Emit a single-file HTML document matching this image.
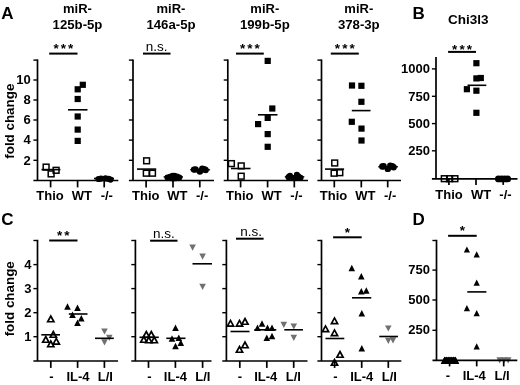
<!DOCTYPE html>
<html><head><meta charset="utf-8"><title>fig</title>
<style>
html,body{margin:0;padding:0;background:#fff;}
body{width:520px;height:385px;overflow:hidden;}
svg{display:block;will-change:transform;font-family:"Liberation Sans",sans-serif;}
</style></head><body>
<svg width="520" height="385" viewBox="0 0 520 385">
<rect width="520" height="385" fill="#fff"/>
<line x1="37.5" y1="59.4" x2="37.5" y2="180.5" stroke="#000" stroke-width="1.7"/>
<line x1="33.4" y1="60.1" x2="37.5" y2="60.1" stroke="#000" stroke-width="1.4"/>
<line x1="33.4" y1="80" x2="37.5" y2="80" stroke="#000" stroke-width="1.4"/>
<line x1="33.4" y1="100" x2="37.5" y2="100" stroke="#000" stroke-width="1.4"/>
<line x1="33.4" y1="120" x2="37.5" y2="120" stroke="#000" stroke-width="1.4"/>
<line x1="33.4" y1="140.1" x2="37.5" y2="140.1" stroke="#000" stroke-width="1.4"/>
<line x1="33.4" y1="160.3" x2="37.5" y2="160.3" stroke="#000" stroke-width="1.4"/>
<line x1="33.4" y1="180.5" x2="118.3" y2="180.5" stroke="#000" stroke-width="1.7"/>
<line x1="50.6" y1="180.5" x2="50.6" y2="187.4" stroke="#000" stroke-width="1.7"/>
<line x1="77.6" y1="180.5" x2="77.6" y2="187.4" stroke="#000" stroke-width="1.7"/>
<line x1="104.2" y1="180.5" x2="104.2" y2="187.4" stroke="#000" stroke-width="1.7"/>
<text x="50.05" y="200" font-size="13" font-weight="bold" text-anchor="middle" >Thio</text>
<text x="81.9" y="200" font-size="13" font-weight="bold" text-anchor="middle" >WT</text>
<text x="106.8" y="200" font-size="13" font-weight="bold" text-anchor="middle" >-/-</text>
<line x1="133" y1="59.4" x2="133" y2="180.5" stroke="#000" stroke-width="1.7"/>
<line x1="128.9" y1="60.1" x2="133" y2="60.1" stroke="#000" stroke-width="1.4"/>
<line x1="128.9" y1="80" x2="133" y2="80" stroke="#000" stroke-width="1.4"/>
<line x1="128.9" y1="100" x2="133" y2="100" stroke="#000" stroke-width="1.4"/>
<line x1="128.9" y1="120" x2="133" y2="120" stroke="#000" stroke-width="1.4"/>
<line x1="128.9" y1="140.1" x2="133" y2="140.1" stroke="#000" stroke-width="1.4"/>
<line x1="128.9" y1="160.3" x2="133" y2="160.3" stroke="#000" stroke-width="1.4"/>
<line x1="128.9" y1="180.5" x2="214" y2="180.5" stroke="#000" stroke-width="1.7"/>
<line x1="146.1" y1="180.5" x2="146.1" y2="187.4" stroke="#000" stroke-width="1.7"/>
<line x1="173" y1="180.5" x2="173" y2="187.4" stroke="#000" stroke-width="1.7"/>
<line x1="199.8" y1="180.5" x2="199.8" y2="187.4" stroke="#000" stroke-width="1.7"/>
<text x="145.75" y="200" font-size="13" font-weight="bold" text-anchor="middle" >Thio</text>
<text x="177.35" y="200" font-size="13" font-weight="bold" text-anchor="middle" >WT</text>
<text x="202.15" y="200" font-size="13" font-weight="bold" text-anchor="middle" >-/-</text>
<line x1="227.8" y1="59.4" x2="227.8" y2="180.5" stroke="#000" stroke-width="1.7"/>
<line x1="223.70000000000002" y1="60.1" x2="227.8" y2="60.1" stroke="#000" stroke-width="1.4"/>
<line x1="223.70000000000002" y1="80" x2="227.8" y2="80" stroke="#000" stroke-width="1.4"/>
<line x1="223.70000000000002" y1="100" x2="227.8" y2="100" stroke="#000" stroke-width="1.4"/>
<line x1="223.70000000000002" y1="120" x2="227.8" y2="120" stroke="#000" stroke-width="1.4"/>
<line x1="223.70000000000002" y1="140.1" x2="227.8" y2="140.1" stroke="#000" stroke-width="1.4"/>
<line x1="223.70000000000002" y1="160.3" x2="227.8" y2="160.3" stroke="#000" stroke-width="1.4"/>
<line x1="223.70000000000002" y1="180.5" x2="308" y2="180.5" stroke="#000" stroke-width="1.7"/>
<line x1="240.6" y1="180.5" x2="240.6" y2="187.4" stroke="#000" stroke-width="1.7"/>
<line x1="267.6" y1="180.5" x2="267.6" y2="187.4" stroke="#000" stroke-width="1.7"/>
<line x1="294.3" y1="180.5" x2="294.3" y2="187.4" stroke="#000" stroke-width="1.7"/>
<text x="239.75" y="200" font-size="13" font-weight="bold" text-anchor="middle" >Thio</text>
<text x="271.65" y="200" font-size="13" font-weight="bold" text-anchor="middle" >WT</text>
<text x="296.5" y="200" font-size="13" font-weight="bold" text-anchor="middle" >-/-</text>
<line x1="321.5" y1="59.4" x2="321.5" y2="180.5" stroke="#000" stroke-width="1.7"/>
<line x1="317.4" y1="60.1" x2="321.5" y2="60.1" stroke="#000" stroke-width="1.4"/>
<line x1="317.4" y1="80" x2="321.5" y2="80" stroke="#000" stroke-width="1.4"/>
<line x1="317.4" y1="100" x2="321.5" y2="100" stroke="#000" stroke-width="1.4"/>
<line x1="317.4" y1="120" x2="321.5" y2="120" stroke="#000" stroke-width="1.4"/>
<line x1="317.4" y1="140.1" x2="321.5" y2="140.1" stroke="#000" stroke-width="1.4"/>
<line x1="317.4" y1="160.3" x2="321.5" y2="160.3" stroke="#000" stroke-width="1.4"/>
<line x1="317.4" y1="180.5" x2="401" y2="180.5" stroke="#000" stroke-width="1.7"/>
<line x1="334.3" y1="180.5" x2="334.3" y2="187.4" stroke="#000" stroke-width="1.7"/>
<line x1="361.3" y1="180.5" x2="361.3" y2="187.4" stroke="#000" stroke-width="1.7"/>
<line x1="387.7" y1="180.5" x2="387.7" y2="187.4" stroke="#000" stroke-width="1.7"/>
<text x="333.5" y="200" font-size="13" font-weight="bold" text-anchor="middle" >Thio</text>
<text x="365.35" y="200" font-size="13" font-weight="bold" text-anchor="middle" >WT</text>
<text x="390.15" y="200" font-size="13" font-weight="bold" text-anchor="middle" >-/-</text>
<text x="30.7" y="84.2" font-size="13" font-weight="bold" text-anchor="end" >10</text>
<text x="30.7" y="104.2" font-size="13" font-weight="bold" text-anchor="end" >8</text>
<text x="30.7" y="124.2" font-size="13" font-weight="bold" text-anchor="end" >6</text>
<text x="30.7" y="144.29999999999998" font-size="13" font-weight="bold" text-anchor="end" >4</text>
<text x="30.7" y="164.5" font-size="13" font-weight="bold" text-anchor="end" >2</text>
<text x="0" y="0" font-size="13.4" font-weight="bold" text-anchor="middle" transform="translate(13.6,121.2) rotate(-90)">fold change</text>
<text x="0" y="0" font-size="13.4" font-weight="bold" text-anchor="middle" transform="translate(13.6,298.8) rotate(-90)">fold change</text>
<text x="77.5" y="13.1" font-size="13" font-weight="bold" text-anchor="middle" >miR-</text>
<text x="77.5" y="29.4" font-size="13.2" font-weight="bold" text-anchor="middle" >125b-5p</text>
<text x="171" y="13.1" font-size="13" font-weight="bold" text-anchor="middle" >miR-</text>
<text x="171" y="29.4" font-size="13.2" font-weight="bold" text-anchor="middle" >146a-5p</text>
<text x="264.8" y="13.1" font-size="13" font-weight="bold" text-anchor="middle" >miR-</text>
<text x="264.8" y="29.4" font-size="13.2" font-weight="bold" text-anchor="middle" >199b-5p</text>
<text x="358.8" y="13.1" font-size="13" font-weight="bold" text-anchor="middle" >miR-</text>
<text x="358.8" y="29.4" font-size="13.2" font-weight="bold" text-anchor="middle" >378-3p</text>
<text x="468.2" y="23.9" font-size="13.5" font-weight="bold" text-anchor="middle" >Chi3l3</text>
<text x="1.3" y="19" font-size="17" font-weight="bold" text-anchor="start" >A</text>
<text x="412.5" y="19" font-size="17" font-weight="bold" text-anchor="start" >B</text>
<text x="1.3" y="225" font-size="17" font-weight="bold" text-anchor="start" >C</text>
<text x="412.5" y="225" font-size="17" font-weight="bold" text-anchor="start" >D</text>
<line x1="49.2" y1="53.6" x2="77.5" y2="53.6" stroke="#000" stroke-width="2.0"/>
<text x="56.05" y="53.30" font-size="13.5" font-weight="bold" text-anchor="middle" >*</text>
<text x="63.35" y="53.30" font-size="13.5" font-weight="bold" text-anchor="middle" >*</text>
<text x="70.65" y="53.30" font-size="13.5" font-weight="bold" text-anchor="middle" >*</text>
<line x1="143" y1="53.6" x2="170.5" y2="53.6" stroke="#000" stroke-width="2.0"/>
<text x="156.75" y="50.70" font-size="13.5" font-weight="normal" text-anchor="middle" >n.s.</text>
<line x1="236" y1="53.6" x2="263.8" y2="53.6" stroke="#000" stroke-width="2.0"/>
<text x="242.60" y="53.30" font-size="13.5" font-weight="bold" text-anchor="middle" >*</text>
<text x="249.90" y="53.30" font-size="13.5" font-weight="bold" text-anchor="middle" >*</text>
<text x="257.20" y="53.30" font-size="13.5" font-weight="bold" text-anchor="middle" >*</text>
<line x1="330.8" y1="53.6" x2="358.8" y2="53.6" stroke="#000" stroke-width="2.0"/>
<text x="337.50" y="53.30" font-size="13.5" font-weight="bold" text-anchor="middle" >*</text>
<text x="344.80" y="53.30" font-size="13.5" font-weight="bold" text-anchor="middle" >*</text>
<text x="352.10" y="53.30" font-size="13.5" font-weight="bold" text-anchor="middle" >*</text>
<line x1="448.1" y1="51.9" x2="476" y2="51.9" stroke="#000" stroke-width="2.0"/>
<text x="454.75" y="53.80" font-size="13.5" font-weight="bold" text-anchor="middle" >*</text>
<text x="462.05" y="53.80" font-size="13.5" font-weight="bold" text-anchor="middle" >*</text>
<text x="469.35" y="53.80" font-size="13.5" font-weight="bold" text-anchor="middle" >*</text>
<rect x="43.20" y="164.20" width="5.80" height="5.80" fill="none" stroke="#000" stroke-width="1.5"/>
<rect x="53.20" y="167.40" width="5.80" height="5.80" fill="none" stroke="#000" stroke-width="1.5"/>
<rect x="48.20" y="171.00" width="5.80" height="5.80" fill="none" stroke="#000" stroke-width="1.5"/>
<line x1="41.5" y1="169.6" x2="60.4" y2="169.6" stroke="#000" stroke-width="1.6"/>
<rect x="79.70" y="81.70" width="6.2" height="6.2" fill="#000"/>
<rect x="74.60" y="86.20" width="6.2" height="6.2" fill="#000"/>
<rect x="74.60" y="95.90" width="6.2" height="6.2" fill="#000"/>
<rect x="74.60" y="113.40" width="6.2" height="6.2" fill="#000"/>
<rect x="74.60" y="126.50" width="6.2" height="6.2" fill="#000"/>
<rect x="74.60" y="137.80" width="6.2" height="6.2" fill="#000"/>
<line x1="68" y1="109.8" x2="87.5" y2="109.8" stroke="#000" stroke-width="1.6"/>
<circle cx="98.5" cy="179" r="3.1" fill="#000"/>
<circle cx="101" cy="178.6" r="3.1" fill="#000"/>
<circle cx="105.5" cy="178.4" r="3.1" fill="#000"/>
<circle cx="108.5" cy="178.8" r="3.1" fill="#000"/>
<circle cx="110.5" cy="179.6" r="3.1" fill="#000"/>
<line x1="94" y1="178.5" x2="114" y2="178.5" stroke="#000" stroke-width="1.6"/>
<rect x="143.70" y="157.90" width="5.80" height="5.80" fill="none" stroke="#000" stroke-width="1.5"/>
<rect x="143.40" y="170.30" width="5.80" height="5.80" fill="none" stroke="#000" stroke-width="1.5"/>
<rect x="149.60" y="170.30" width="5.80" height="5.80" fill="none" stroke="#000" stroke-width="1.5"/>
<line x1="137" y1="169.1" x2="156.2" y2="169.1" stroke="#000" stroke-width="1.6"/>
<circle cx="167.4" cy="177.4" r="3.0" fill="#000"/>
<circle cx="170" cy="176.7" r="3.0" fill="#000"/>
<circle cx="172.5" cy="175.8" r="3.0" fill="#000"/>
<circle cx="174.5" cy="175.7" r="3.0" fill="#000"/>
<circle cx="177" cy="176.6" r="3.0" fill="#000"/>
<circle cx="179.4" cy="177.4" r="3.0" fill="#000"/>
<circle cx="171" cy="178.3" r="3.0" fill="#000"/>
<circle cx="176" cy="178.3" r="3.0" fill="#000"/>
<circle cx="173.5" cy="178.5" r="3.0" fill="#000"/>
<line x1="163.6" y1="176.9" x2="183" y2="176.9" stroke="#000" stroke-width="1.3"/>
<circle cx="194" cy="169.6" r="3.2" fill="#000"/>
<circle cx="195.5" cy="169.4" r="3.2" fill="#000"/>
<circle cx="199.9" cy="171.5" r="3.2" fill="#000"/>
<circle cx="202.3" cy="168.7" r="3.2" fill="#000"/>
<circle cx="204.2" cy="169.2" r="3.2" fill="#000"/>
<circle cx="205.6" cy="170" r="3.2" fill="#000"/>
<line x1="190.2" y1="169.8" x2="210.1" y2="169.8" stroke="#000" stroke-width="1.3"/>
<rect x="228.50" y="160.70" width="5.80" height="5.80" fill="none" stroke="#000" stroke-width="1.5"/>
<rect x="238.30" y="163.00" width="5.80" height="5.80" fill="none" stroke="#000" stroke-width="1.5"/>
<rect x="238.30" y="173.30" width="5.80" height="5.80" fill="none" stroke="#000" stroke-width="1.5"/>
<line x1="231" y1="168.5" x2="250.5" y2="168.5" stroke="#000" stroke-width="1.6"/>
<rect x="264.60" y="57.80" width="6.2" height="6.2" fill="#000"/>
<rect x="269.20" y="105.40" width="6.2" height="6.2" fill="#000"/>
<rect x="264.60" y="114.80" width="6.2" height="6.2" fill="#000"/>
<rect x="255.00" y="121.00" width="6.2" height="6.2" fill="#000"/>
<rect x="264.60" y="131.00" width="6.2" height="6.2" fill="#000"/>
<rect x="264.60" y="143.70" width="6.2" height="6.2" fill="#000"/>
<line x1="258" y1="114.8" x2="277.5" y2="114.8" stroke="#000" stroke-width="1.6"/>
<circle cx="288.6" cy="177.2" r="3.1" fill="#000"/>
<circle cx="290" cy="175.9" r="3.1" fill="#000"/>
<circle cx="293.5" cy="178" r="3.1" fill="#000"/>
<circle cx="296.9" cy="174.9" r="3.1" fill="#000"/>
<circle cx="298.5" cy="176.5" r="3.1" fill="#000"/>
<circle cx="300.5" cy="177.8" r="3.1" fill="#000"/>
<circle cx="295.5" cy="178" r="3.1" fill="#000"/>
<line x1="284.8" y1="176.8" x2="304.3" y2="176.8" stroke="#000" stroke-width="1.3"/>
<rect x="331.80" y="160.10" width="5.80" height="5.80" fill="none" stroke="#000" stroke-width="1.5"/>
<rect x="331.20" y="170.30" width="5.80" height="5.80" fill="none" stroke="#000" stroke-width="1.5"/>
<rect x="336.90" y="169.80" width="5.80" height="5.80" fill="none" stroke="#000" stroke-width="1.5"/>
<line x1="325" y1="169.1" x2="344.1" y2="169.1" stroke="#000" stroke-width="1.6"/>
<rect x="348.90" y="82.40" width="6.2" height="6.2" fill="#000"/>
<rect x="358.30" y="82.70" width="6.2" height="6.2" fill="#000"/>
<rect x="358.30" y="98.70" width="6.2" height="6.2" fill="#000"/>
<rect x="348.70" y="118.70" width="6.2" height="6.2" fill="#000"/>
<rect x="358.40" y="125.50" width="6.2" height="6.2" fill="#000"/>
<rect x="358.40" y="137.40" width="6.2" height="6.2" fill="#000"/>
<line x1="351.8" y1="110.6" x2="370.5" y2="110.6" stroke="#000" stroke-width="1.6"/>
<circle cx="382.3" cy="166.5" r="3.2" fill="#000"/>
<circle cx="383.6" cy="166.3" r="3.2" fill="#000"/>
<circle cx="387.8" cy="168.9" r="3.2" fill="#000"/>
<circle cx="390.3" cy="165.7" r="3.2" fill="#000"/>
<circle cx="392.2" cy="166.2" r="3.2" fill="#000"/>
<circle cx="393.6" cy="167.2" r="3.2" fill="#000"/>
<line x1="378.2" y1="166.8" x2="398" y2="166.8" stroke="#000" stroke-width="1.3"/>
<line x1="436" y1="57.099999999999994" x2="436" y2="178.9" stroke="#000" stroke-width="1.7"/>
<line x1="431.9" y1="68.9" x2="436" y2="68.9" stroke="#000" stroke-width="1.4"/>
<line x1="431.9" y1="96.3" x2="436" y2="96.3" stroke="#000" stroke-width="1.4"/>
<line x1="431.9" y1="123.6" x2="436" y2="123.6" stroke="#000" stroke-width="1.4"/>
<line x1="431.9" y1="150.8" x2="436" y2="150.8" stroke="#000" stroke-width="1.4"/>
<line x1="431.9" y1="178.9" x2="517.5" y2="178.9" stroke="#000" stroke-width="1.7"/>
<line x1="448.9" y1="178.9" x2="448.9" y2="184.9" stroke="#000" stroke-width="1.7"/>
<line x1="476" y1="178.9" x2="476" y2="184.9" stroke="#000" stroke-width="1.7"/>
<line x1="503.2" y1="178.9" x2="503.2" y2="184.9" stroke="#000" stroke-width="1.7"/>
<text x="449.05" y="199.4" font-size="13" font-weight="bold" text-anchor="middle" >Thio</text>
<text x="481.05" y="199.4" font-size="13" font-weight="bold" text-anchor="middle" >WT</text>
<text x="505.45" y="199.4" font-size="13" font-weight="bold" text-anchor="middle" >-/-</text>
<text x="430" y="73.10000000000001" font-size="13" font-weight="bold" text-anchor="end" >1000</text>
<text x="430" y="100.5" font-size="13" font-weight="bold" text-anchor="end" >750</text>
<text x="430" y="127.8" font-size="13" font-weight="bold" text-anchor="end" >500</text>
<text x="430" y="155.0" font-size="13" font-weight="bold" text-anchor="end" >250</text>
<rect x="441.40" y="175.80" width="5.80" height="5.80" fill="none" stroke="#000" stroke-width="1.5"/>
<rect x="446.70" y="175.80" width="5.80" height="5.80" fill="none" stroke="#000" stroke-width="1.5"/>
<rect x="452.00" y="175.80" width="5.80" height="5.80" fill="none" stroke="#000" stroke-width="1.5"/>
<rect x="473.30" y="60.10" width="6.2" height="6.2" fill="#000"/>
<rect x="473.30" y="75.30" width="6.2" height="6.2" fill="#000"/>
<rect x="477.70" y="74.90" width="6.2" height="6.2" fill="#000"/>
<rect x="463.80" y="86.10" width="6.2" height="6.2" fill="#000"/>
<rect x="473.30" y="87.60" width="6.2" height="6.2" fill="#000"/>
<rect x="473.30" y="109.70" width="6.2" height="6.2" fill="#000"/>
<line x1="467.5" y1="85.3" x2="486.3" y2="85.3" stroke="#000" stroke-width="1.6"/>
<circle cx="498.4" cy="178.9" r="3.4" fill="#000"/>
<circle cx="501.5" cy="178.9" r="3.4" fill="#000"/>
<circle cx="504.5" cy="178.9" r="3.4" fill="#000"/>
<circle cx="507.6" cy="178.9" r="3.4" fill="#000"/>
<line x1="37.5" y1="239.8" x2="37.5" y2="361.0" stroke="#000" stroke-width="1.7"/>
<line x1="33.4" y1="240.5" x2="37.5" y2="240.5" stroke="#000" stroke-width="1.4"/>
<line x1="33.4" y1="264.6" x2="37.5" y2="264.6" stroke="#000" stroke-width="1.4"/>
<line x1="33.4" y1="288.6" x2="37.5" y2="288.6" stroke="#000" stroke-width="1.4"/>
<line x1="33.4" y1="312.7" x2="37.5" y2="312.7" stroke="#000" stroke-width="1.4"/>
<line x1="33.4" y1="336.7" x2="37.5" y2="336.7" stroke="#000" stroke-width="1.4"/>
<line x1="33.4" y1="361.0" x2="118" y2="361.0" stroke="#000" stroke-width="1.7"/>
<line x1="50.8" y1="361.0" x2="50.8" y2="367.9" stroke="#000" stroke-width="1.7"/>
<line x1="77.6" y1="361.0" x2="77.6" y2="367.9" stroke="#000" stroke-width="1.7"/>
<line x1="104.4" y1="361.0" x2="104.4" y2="367.9" stroke="#000" stroke-width="1.7"/>
<text x="51.4" y="381.3" font-size="13" font-weight="bold" text-anchor="middle" >-</text>
<text x="78" y="381.3" font-size="13" font-weight="bold" text-anchor="middle" >IL-4</text>
<text x="105.4" y="381.3" font-size="13" font-weight="bold" text-anchor="middle" >L/I</text>
<line x1="135.4" y1="239.8" x2="135.4" y2="361.0" stroke="#000" stroke-width="1.7"/>
<line x1="131.3" y1="240.5" x2="135.4" y2="240.5" stroke="#000" stroke-width="1.4"/>
<line x1="131.3" y1="264.6" x2="135.4" y2="264.6" stroke="#000" stroke-width="1.4"/>
<line x1="131.3" y1="288.6" x2="135.4" y2="288.6" stroke="#000" stroke-width="1.4"/>
<line x1="131.3" y1="312.7" x2="135.4" y2="312.7" stroke="#000" stroke-width="1.4"/>
<line x1="131.3" y1="336.7" x2="135.4" y2="336.7" stroke="#000" stroke-width="1.4"/>
<line x1="131.3" y1="361.0" x2="211.5" y2="361.0" stroke="#000" stroke-width="1.7"/>
<line x1="148.5" y1="361.0" x2="148.5" y2="367.9" stroke="#000" stroke-width="1.7"/>
<line x1="175.4" y1="361.0" x2="175.4" y2="367.9" stroke="#000" stroke-width="1.7"/>
<line x1="202.6" y1="361.0" x2="202.6" y2="367.9" stroke="#000" stroke-width="1.7"/>
<text x="149.4" y="381.3" font-size="13" font-weight="bold" text-anchor="middle" >-</text>
<text x="175.4" y="381.3" font-size="13" font-weight="bold" text-anchor="middle" >IL-4</text>
<text x="202.9" y="381.3" font-size="13" font-weight="bold" text-anchor="middle" >L/I</text>
<line x1="226.4" y1="239.8" x2="226.4" y2="361.0" stroke="#000" stroke-width="1.7"/>
<line x1="222.3" y1="240.5" x2="226.4" y2="240.5" stroke="#000" stroke-width="1.4"/>
<line x1="222.3" y1="264.6" x2="226.4" y2="264.6" stroke="#000" stroke-width="1.4"/>
<line x1="222.3" y1="288.6" x2="226.4" y2="288.6" stroke="#000" stroke-width="1.4"/>
<line x1="222.3" y1="312.7" x2="226.4" y2="312.7" stroke="#000" stroke-width="1.4"/>
<line x1="222.3" y1="336.7" x2="226.4" y2="336.7" stroke="#000" stroke-width="1.4"/>
<line x1="222.3" y1="361.0" x2="307.5" y2="361.0" stroke="#000" stroke-width="1.7"/>
<line x1="239.8" y1="361.0" x2="239.8" y2="367.9" stroke="#000" stroke-width="1.7"/>
<line x1="266.8" y1="361.0" x2="266.8" y2="367.9" stroke="#000" stroke-width="1.7"/>
<line x1="293.7" y1="361.0" x2="293.7" y2="367.9" stroke="#000" stroke-width="1.7"/>
<text x="239.9" y="381.3" font-size="13" font-weight="bold" text-anchor="middle" >-</text>
<text x="265.7" y="381.3" font-size="13" font-weight="bold" text-anchor="middle" >IL-4</text>
<text x="293.3" y="381.3" font-size="13" font-weight="bold" text-anchor="middle" >L/I</text>
<line x1="321.5" y1="239.8" x2="321.5" y2="361.0" stroke="#000" stroke-width="1.7"/>
<line x1="317.4" y1="240.5" x2="321.5" y2="240.5" stroke="#000" stroke-width="1.4"/>
<line x1="317.4" y1="264.6" x2="321.5" y2="264.6" stroke="#000" stroke-width="1.4"/>
<line x1="317.4" y1="288.6" x2="321.5" y2="288.6" stroke="#000" stroke-width="1.4"/>
<line x1="317.4" y1="312.7" x2="321.5" y2="312.7" stroke="#000" stroke-width="1.4"/>
<line x1="317.4" y1="336.7" x2="321.5" y2="336.7" stroke="#000" stroke-width="1.4"/>
<line x1="317.4" y1="361.0" x2="401.3" y2="361.0" stroke="#000" stroke-width="1.7"/>
<line x1="334.6" y1="361.0" x2="334.6" y2="367.9" stroke="#000" stroke-width="1.7"/>
<line x1="361.7" y1="361.0" x2="361.7" y2="367.9" stroke="#000" stroke-width="1.7"/>
<line x1="388.3" y1="361.0" x2="388.3" y2="367.9" stroke="#000" stroke-width="1.7"/>
<text x="335.3" y="381.3" font-size="13" font-weight="bold" text-anchor="middle" >-</text>
<text x="361.7" y="381.3" font-size="13" font-weight="bold" text-anchor="middle" >IL-4</text>
<text x="389.3" y="381.3" font-size="13" font-weight="bold" text-anchor="middle" >L/I</text>
<text x="31.5" y="268.90000000000003" font-size="13" font-weight="bold" text-anchor="end" >4</text>
<text x="31.5" y="292.90000000000003" font-size="13" font-weight="bold" text-anchor="end" >3</text>
<text x="31.5" y="317.0" font-size="13" font-weight="bold" text-anchor="end" >2</text>
<text x="31.5" y="341.0" font-size="13" font-weight="bold" text-anchor="end" >1</text>
<line x1="49.2" y1="240.5" x2="77.5" y2="240.5" stroke="#000" stroke-width="2.0"/>
<text x="59.70" y="240.20" font-size="13.5" font-weight="bold" text-anchor="middle" >*</text>
<text x="67.00" y="240.20" font-size="13.5" font-weight="bold" text-anchor="middle" >*</text>
<line x1="150.1" y1="240.7" x2="177.5" y2="240.7" stroke="#000" stroke-width="2.0"/>
<text x="163.8" y="237.80" font-size="13.5" font-weight="normal" text-anchor="middle" >n.s.</text>
<line x1="236" y1="238.7" x2="263.6" y2="238.7" stroke="#000" stroke-width="2.0"/>
<text x="251.1" y="235.80" font-size="13.5" font-weight="normal" text-anchor="middle" >n.s.</text>
<line x1="333.1" y1="237.3" x2="361.7" y2="237.3" stroke="#000" stroke-width="2.0"/>
<text x="347.40" y="237.00" font-size="13.5" font-weight="bold" text-anchor="middle" >*</text>
<line x1="448.1" y1="235.8" x2="476.7" y2="235.8" stroke="#000" stroke-width="2.0"/>
<text x="462.40" y="234.90" font-size="13.5" font-weight="bold" text-anchor="middle" >*</text>
<path d="M47.70,321.75 L53.90,321.75 L50.80,316.10 Z" fill="none" stroke="#000" stroke-width="1.7" stroke-linejoin="miter"/>
<path d="M50.20,337.25 L56.40,337.25 L53.30,331.60 Z" fill="none" stroke="#000" stroke-width="1.7" stroke-linejoin="miter"/>
<path d="M42.70,342.25 L48.90,342.25 L45.80,336.60 Z" fill="none" stroke="#000" stroke-width="1.7" stroke-linejoin="miter"/>
<path d="M53.20,344.05 L59.40,344.05 L56.30,338.40 Z" fill="none" stroke="#000" stroke-width="1.7" stroke-linejoin="miter"/>
<path d="M47.70,346.75 L53.90,346.75 L50.80,341.10 Z" fill="none" stroke="#000" stroke-width="1.7" stroke-linejoin="miter"/>
<line x1="41.3" y1="334.8" x2="60" y2="334.8" stroke="#000" stroke-width="1.6"/>
<path d="M64.20,309.70 L70.80,309.70 L67.50,303.30 Z" fill="#000"/>
<path d="M74.20,311.00 L80.80,311.00 L77.50,304.60 Z" fill="#000"/>
<path d="M69.20,318.00 L75.80,318.00 L72.50,311.60 Z" fill="#000"/>
<path d="M78.00,321.50 L84.60,321.50 L81.30,315.10 Z" fill="#000"/>
<path d="M74.20,326.00 L80.80,326.00 L77.50,319.60 Z" fill="#000"/>
<line x1="68.8" y1="314" x2="87.5" y2="314" stroke="#000" stroke-width="1.6"/>
<path d="M101.20,328.40 L107.80,328.40 L104.50,334.60 Z" fill="#707070"/>
<path d="M106.00,334.70 L112.60,334.70 L109.30,340.90 Z" fill="#707070"/>
<path d="M101.20,339.20 L107.80,339.20 L104.50,345.40 Z" fill="#707070"/>
<line x1="95" y1="338.3" x2="113.8" y2="338.3" stroke="#000" stroke-width="1.6"/>
<path d="M143.20,337.25 L149.40,337.25 L146.30,331.60 Z" fill="none" stroke="#000" stroke-width="1.7" stroke-linejoin="miter"/>
<path d="M148.20,337.25 L154.40,337.25 L151.30,331.60 Z" fill="none" stroke="#000" stroke-width="1.7" stroke-linejoin="miter"/>
<path d="M140.70,342.25 L146.90,342.25 L143.80,336.60 Z" fill="none" stroke="#000" stroke-width="1.7" stroke-linejoin="miter"/>
<path d="M145.70,342.75 L151.90,342.75 L148.80,337.10 Z" fill="none" stroke="#000" stroke-width="1.7" stroke-linejoin="miter"/>
<path d="M151.20,342.75 L157.40,342.75 L154.30,337.10 Z" fill="none" stroke="#000" stroke-width="1.7" stroke-linejoin="miter"/>
<line x1="139.5" y1="337.3" x2="158.8" y2="337.3" stroke="#000" stroke-width="1.6"/>
<path d="M172.20,331.00 L178.80,331.00 L175.50,324.60 Z" fill="#000"/>
<path d="M168.70,341.70 L175.30,341.70 L172.00,335.30 Z" fill="#000"/>
<path d="M175.50,341.00 L182.10,341.00 L178.80,334.60 Z" fill="#000"/>
<path d="M177.50,346.00 L184.10,346.00 L180.80,339.60 Z" fill="#000"/>
<path d="M172.20,349.20 L178.80,349.20 L175.50,342.80 Z" fill="#000"/>
<line x1="166.3" y1="338.3" x2="185.5" y2="338.3" stroke="#000" stroke-width="1.6"/>
<path d="M189.30,244.50 L195.90,244.50 L192.60,250.70 Z" fill="#707070"/>
<path d="M199.30,253.50 L205.90,253.50 L202.60,259.70 Z" fill="#707070"/>
<path d="M199.30,283.80 L205.90,283.80 L202.60,290.00 Z" fill="#707070"/>
<line x1="192.5" y1="263.8" x2="212" y2="263.8" stroke="#000" stroke-width="1.6"/>
<path d="M227.40,326.05 L233.60,326.05 L230.50,320.40 Z" fill="none" stroke="#000" stroke-width="1.7" stroke-linejoin="miter"/>
<path d="M236.40,326.05 L242.60,326.05 L239.50,320.40 Z" fill="none" stroke="#000" stroke-width="1.7" stroke-linejoin="miter"/>
<path d="M241.90,324.25 L248.10,324.25 L245.00,318.60 Z" fill="none" stroke="#000" stroke-width="1.7" stroke-linejoin="miter"/>
<path d="M241.90,347.75 L248.10,347.75 L245.00,342.10 Z" fill="none" stroke="#000" stroke-width="1.7" stroke-linejoin="miter"/>
<path d="M236.40,352.25 L242.60,352.25 L239.50,346.60 Z" fill="none" stroke="#000" stroke-width="1.7" stroke-linejoin="miter"/>
<line x1="230.5" y1="331.5" x2="249.5" y2="331.5" stroke="#000" stroke-width="1.6"/>
<path d="M258.70,326.70 L265.30,326.70 L262.00,320.30 Z" fill="#000"/>
<path d="M254.20,331.00 L260.80,331.00 L257.50,324.60 Z" fill="#000"/>
<path d="M264.20,331.00 L270.80,331.00 L267.50,324.60 Z" fill="#000"/>
<path d="M268.70,331.00 L275.30,331.00 L272.00,324.60 Z" fill="#000"/>
<path d="M268.70,339.20 L275.30,339.20 L272.00,332.80 Z" fill="#000"/>
<path d="M263.50,341.00 L270.10,341.00 L266.80,334.60 Z" fill="#000"/>
<line x1="254.3" y1="329.8" x2="276.3" y2="329.8" stroke="#000" stroke-width="1.6"/>
<path d="M280.50,321.70 L287.10,321.70 L283.80,327.90 Z" fill="#707070"/>
<path d="M290.50,323.40 L297.10,323.40 L293.80,329.60 Z" fill="#707070"/>
<path d="M290.50,334.70 L297.10,334.70 L293.80,340.90 Z" fill="#707070"/>
<line x1="284.3" y1="329.8" x2="303" y2="329.8" stroke="#000" stroke-width="1.6"/>
<path d="M331.40,323.55 L337.60,323.55 L334.50,317.90 Z" fill="none" stroke="#000" stroke-width="1.7" stroke-linejoin="miter"/>
<path d="M322.40,331.55 L328.60,331.55 L325.50,325.90 Z" fill="none" stroke="#000" stroke-width="1.7" stroke-linejoin="miter"/>
<path d="M331.40,335.55 L337.60,335.55 L334.50,329.90 Z" fill="none" stroke="#000" stroke-width="1.7" stroke-linejoin="miter"/>
<path d="M336.90,357.25 L343.10,357.25 L340.00,351.60 Z" fill="none" stroke="#000" stroke-width="1.7" stroke-linejoin="miter"/>
<path d="M331.40,365.25 L337.60,365.25 L334.50,359.60 Z" fill="none" stroke="#000" stroke-width="1.7" stroke-linejoin="miter"/>
<line x1="325.5" y1="338.5" x2="344.3" y2="338.5" stroke="#000" stroke-width="1.6"/>
<path d="M348.50,271.20 L355.10,271.20 L351.80,264.80 Z" fill="#000"/>
<path d="M358.00,279.50 L364.60,279.50 L361.30,273.10 Z" fill="#000"/>
<path d="M363.00,293.70 L369.60,293.70 L366.30,287.30 Z" fill="#000"/>
<path d="M358.00,294.50 L364.60,294.50 L361.30,288.10 Z" fill="#000"/>
<path d="M358.50,316.50 L365.10,316.50 L361.80,310.10 Z" fill="#000"/>
<path d="M358.50,351.50 L365.10,351.50 L361.80,345.10 Z" fill="#000"/>
<line x1="352" y1="297.8" x2="371.3" y2="297.8" stroke="#000" stroke-width="1.6"/>
<path d="M385.00,325.40 L391.60,325.40 L388.30,331.60 Z" fill="#707070"/>
<path d="M385.00,337.70 L391.60,337.70 L388.30,343.90 Z" fill="#707070"/>
<path d="M389.70,337.20 L396.30,337.20 L393.00,343.40 Z" fill="#707070"/>
<line x1="379.3" y1="336.5" x2="398" y2="336.5" stroke="#000" stroke-width="1.6"/>
<path d="M496.40,357.20 L503.00,357.20 L499.70,363.40 Z" fill="#707070"/>
<path d="M500.70,357.20 L507.30,357.20 L504.00,363.40 Z" fill="#707070"/>
<path d="M504.90,357.20 L511.50,357.20 L508.20,363.40 Z" fill="#707070"/>
<line x1="436.5" y1="239.8" x2="436.5" y2="360.4" stroke="#000" stroke-width="1.7"/>
<line x1="432.4" y1="240.5" x2="436.5" y2="240.5" stroke="#000" stroke-width="1.4"/>
<line x1="432.4" y1="270.1" x2="436.5" y2="270.1" stroke="#000" stroke-width="1.4"/>
<line x1="432.4" y1="300" x2="436.5" y2="300" stroke="#000" stroke-width="1.4"/>
<line x1="432.4" y1="330.3" x2="436.5" y2="330.3" stroke="#000" stroke-width="1.4"/>
<line x1="432.5" y1="360.4" x2="517.3" y2="360.4" stroke="#000" stroke-width="1.7"/>
<line x1="449.6" y1="360.4" x2="449.6" y2="366.4" stroke="#000" stroke-width="1.7"/>
<line x1="476.7" y1="360.4" x2="476.7" y2="366.4" stroke="#000" stroke-width="1.7"/>
<line x1="503.7" y1="360.4" x2="503.7" y2="366.4" stroke="#000" stroke-width="1.7"/>
<text x="447.9" y="380.4" font-size="13" font-weight="bold" text-anchor="middle" >-</text>
<text x="474.3" y="380.4" font-size="13" font-weight="bold" text-anchor="middle" >IL-4</text>
<text x="502.1" y="380.4" font-size="13" font-weight="bold" text-anchor="middle" >L/I</text>
<text x="430" y="273.90000000000003" font-size="13" font-weight="bold" text-anchor="end" >750</text>
<text x="430" y="303.8" font-size="13" font-weight="bold" text-anchor="end" >500</text>
<text x="430" y="334.1" font-size="13" font-weight="bold" text-anchor="end" >250</text>
<path d="M440.80,364.00 L448.40,364.00 L444.60,356.40 Z" fill="#000"/>
<path d="M442.60,364.00 L450.20,364.00 L446.40,356.40 Z" fill="#000"/>
<path d="M444.40,364.00 L452.00,364.00 L448.20,356.40 Z" fill="#000"/>
<path d="M446.20,364.00 L453.80,364.00 L450.00,356.40 Z" fill="#000"/>
<path d="M448.00,364.00 L455.60,364.00 L451.80,356.40 Z" fill="#000"/>
<path d="M449.80,364.00 L457.40,364.00 L453.60,356.40 Z" fill="#000"/>
<path d="M451.60,364.00 L459.20,364.00 L455.40,356.40 Z" fill="#000"/>
<path d="M440.8,364 L459.2,364 L455.8,357.3 L444.2,357.3 Z" fill="#000"/>
<path d="M463.80,252.60 L470.00,252.60 L466.90,246.40 Z" fill="#000"/>
<path d="M473.60,257.40 L479.80,257.40 L476.70,251.20 Z" fill="#000"/>
<path d="M473.60,285.70 L479.80,285.70 L476.70,279.50 Z" fill="#000"/>
<path d="M463.80,311.30 L470.00,311.30 L466.90,305.10 Z" fill="#000"/>
<path d="M473.60,316.20 L479.80,316.20 L476.70,310.00 Z" fill="#000"/>
<path d="M473.60,349.50 L479.80,349.50 L476.70,343.30 Z" fill="#000"/>
<line x1="467.3" y1="291.9" x2="486.4" y2="291.9" stroke="#000" stroke-width="1.6"/>
</svg>
</body></html>
